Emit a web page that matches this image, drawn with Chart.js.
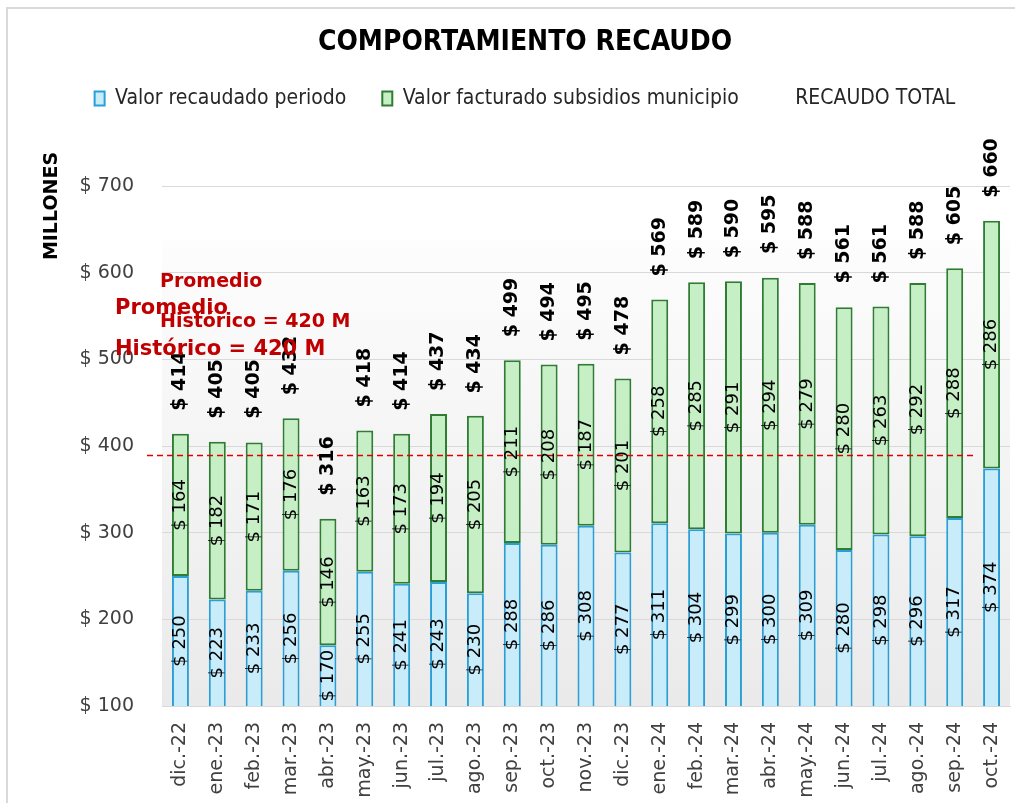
<!DOCTYPE html>
<html>
<head>
<meta charset="utf-8">
<script src="https://cdn.jsdelivr.net/npm/chart.js@4.4.1/dist/chart.umd.min.js"></script>
<style>
html, body { margin: 0; padding: 0; background: #fff; }
#wrap { width: 1015px; height: 803px; position: relative; }
</style>
</head>
<body>
<div id="wrap"><canvas id="grafico"></canvas></div>
<script>
// datos (millones de pesos)
var meses = ['dic.-22', 'ene.-23', 'feb.-23', 'mar.-23', 'abr.-23', 'may.-23', 'jun.-23', 'jul.-23',
  'ago.-23', 'sep.-23', 'oct.-23', 'nov.-23', 'dic.-23', 'ene.-24', 'feb.-24', 'mar.-24', 'abr.-24',
  'may.-24', 'jun.-24', 'jul.-24', 'ago.-24', 'sep.-24', 'oct.-24'];
var recaudado = [250, 223, 233, 256, 170, 255, 241, 243, 230, 288, 286, 308, 277, 311, 304, 299, 300, 309, 280, 298, 296, 317, 374];
var subsidios = [164, 182, 171, 176, 146, 163, 173, 194, 205, 211, 208, 187, 201, 258, 285, 291, 294, 279, 280, 263, 292, 288, 286];
var totales = [414, 405, 405, 432, 316, 418, 414, 437, 434, 499, 494, 495, 478, 569, 589, 590, 595, 588, 561, 561, 588, 605, 660];
var lineaPromedio = 389;
var ejeMin = 100;
var ejeMax = 700;
var ejePaso = 100;

var fuenteAngosta = '"DejaVu Sans Condensed", "Liberation Sans", sans-serif';

var adornos = {
  id: 'adornos',
  beforeInit: function(chart) {
    var fit = chart.legend.fit;
    chart.legend.fit = function() {
      fit.call(this);
      this.height += 67;
    };
  },
  beforeDraw: function(chart) {
    var ctx = chart.ctx, a = chart.chartArea;
    ctx.save();
    ctx.fillStyle = '#fff';
    ctx.fillRect(0, 0, chart.width, chart.height);
    var top = a.top + 54;
    var g = ctx.createLinearGradient(0, top, 0, a.bottom);
    g.addColorStop(0, '#fdfdfd');
    g.addColorStop(1, '#eaeaea');
    ctx.fillStyle = g;
    ctx.fillRect(a.left, top, a.right - a.left, a.bottom - top);
    ctx.strokeStyle = '#d9d9d9';
    ctx.lineWidth = 2;
    ctx.strokeRect(7, 8, chart.width, chart.height);
    ctx.restore();
  },
  afterDatasetsDraw: function(chart) {
    var ctx = chart.ctx, a = chart.chartArea;
    var yp = chart.scales.y.getPixelForValue(lineaPromedio);
    ctx.save();
    ctx.strokeStyle = '#E00000';
    ctx.lineWidth = 1.5;
    ctx.setLineDash([6, 4]);
    ctx.beginPath();
    ctx.moveTo(a.left - 15, yp);
    ctx.lineTo(a.right - 33, yp);
    ctx.stroke();
    ctx.setLineDash([]);

    ctx.fillStyle = '#000';
    ctx.textBaseline = 'middle';
    ctx.textAlign = 'center';
    ctx.font = '18px "DejaVu Sans"';
    [0, 1].forEach(function(d) {
      var vals = chart.data.datasets[d].data;
      chart.getDatasetMeta(d).data.forEach(function(bar, i) {
        var base = Math.min(bar.base, a.bottom);
        ctx.save();
        ctx.translate(bar.x, (bar.y + base) / 2);
        ctx.rotate(-Math.PI / 2);
        ctx.fillText('$ ' + vals[i], 0, 0);
        ctx.restore();
      });
    });

    ctx.font = 'bold 19px "DejaVu Sans"';
    ctx.textAlign = 'left';
    chart.getDatasetMeta(2).data.forEach(function(p, i) {
      ctx.save();
      ctx.translate(p.x, p.y - 23);
      ctx.rotate(-Math.PI / 2);
      ctx.fillText('$ ' + totales[i], 0, 0);
      ctx.restore();
    });
    ctx.restore();
  },
  afterDraw: function(chart) {
    var ctx = chart.ctx;
    ctx.save();
    // titulo del eje
    ctx.fillStyle = '#000';
    ctx.font = 'bold 19px "DejaVu Sans"';
    ctx.textAlign = 'center';
    ctx.textBaseline = 'middle';
    ctx.translate(52, 206);
    ctx.rotate(-Math.PI / 2);
    ctx.fillText('MILLONES', 0, 0);
    ctx.restore();

    ctx.save();
    ctx.fillStyle = '#C00000';
    ctx.textAlign = 'left';
    ctx.textBaseline = 'alphabetic';
    ctx.font = 'bold 19px "DejaVu Sans"';
    ctx.fillText('Promedio', 160, 287);
    ctx.fillText('Histórico = 420 M', 160, 327);
    ctx.font = 'bold 21px "DejaVu Sans"';
    ctx.fillText('Promedio', 115, 314);
    ctx.fillText('Histórico = 420 M', 115, 355);
    ctx.restore();
  }
};

var ctx = document.getElementById('grafico').getContext('2d');
var chart = new Chart(ctx, {
  data: {
    labels: meses,
    datasets: [{
      type: 'bar',
      label: 'Valor recaudado periodo',
      data: recaudado,
      backgroundColor: '#C9ECFA',
      borderColor: '#2A9FD6',
      borderWidth: 2,
      stack: 's'
    }, {
      type: 'bar',
      label: 'Valor facturado subsidios municipio',
      data: subsidios,
      backgroundColor: '#C6EFC6',
      borderColor: '#2E7D32',
      borderWidth: 2,
      borderSkipped: false,
      stack: 's'
    }, {
      type: 'line',
      label: 'RECAUDO TOTAL',
      data: totales,
      showLine: false,
      pointRadius: 0,
      borderColor: 'rgba(0,0,0,0)',
      backgroundColor: 'rgba(0,0,0,0)'
    }]
  },
  options: {
    responsive: true,
    maintainAspectRatio: false,
    animation: false,
    layout: { padding: { left: 40, right: 5, top: 0, bottom: 0 } },
    datasets: { bar: { barPercentage: 0.46, categoryPercentage: 1 } },
    plugins: {
      tooltip: { enabled: false },
      title: {
        display: true,
        text: 'COMPORTAMIENTO RECAUDO',
        color: '#000',
        padding: { top: 29, bottom: -5 },
        font: { family: fuenteAngosta, size: 28, weight: 'bold', lineHeight: 1 }
      },
      legend: {
        display: true,
        position: 'top',
        labels: {
          color: '#262626',
          boxWidth: 10,
          boxHeight: 14,
          padding: 36,
          font: { family: fuenteAngosta, size: 21 },
          generateLabels: function(chart) {
            var items = Chart.defaults.plugins.legend.labels.generateLabels(chart);
            items[2].fillStyle = 'rgba(0,0,0,0)';
            items[2].strokeStyle = 'rgba(0,0,0,0)';
            items[2].lineWidth = 0;
            return items;
          }
        }
      }
    },
    scales: {
      x: {
        stacked: true,
        afterFit: function(s) {
          s.height = 97;
          s.paddingLeft = 0;
          s.paddingRight = 0;
        },
        grid: { display: false, drawTicks: false },
        border: { display: true, color: '#d9d9d9' },
        ticks: {
          autoSkip: false,
          minRotation: 90,
          maxRotation: 90,
          padding: 16,
          color: '#404040',
          font: { family: 'DejaVu Sans', size: 19 }
        }
      },
      y: {
        stacked: true,
        min: ejeMin,
        max: ejeMax,
        afterFit: function(s) { s.width = 122; },
        grid: { color: '#d9d9d9', drawTicks: false },
        border: { display: false },
        ticks: {
          stepSize: ejePaso,
          padding: 28,
          color: '#404040',
          font: { family: 'DejaVu Sans', size: 19 },
          callback: function(v) { return '$ ' + v; }
        }
      }
    }
  },
  plugins: [adornos]
});
</script>
</body>
</html>
